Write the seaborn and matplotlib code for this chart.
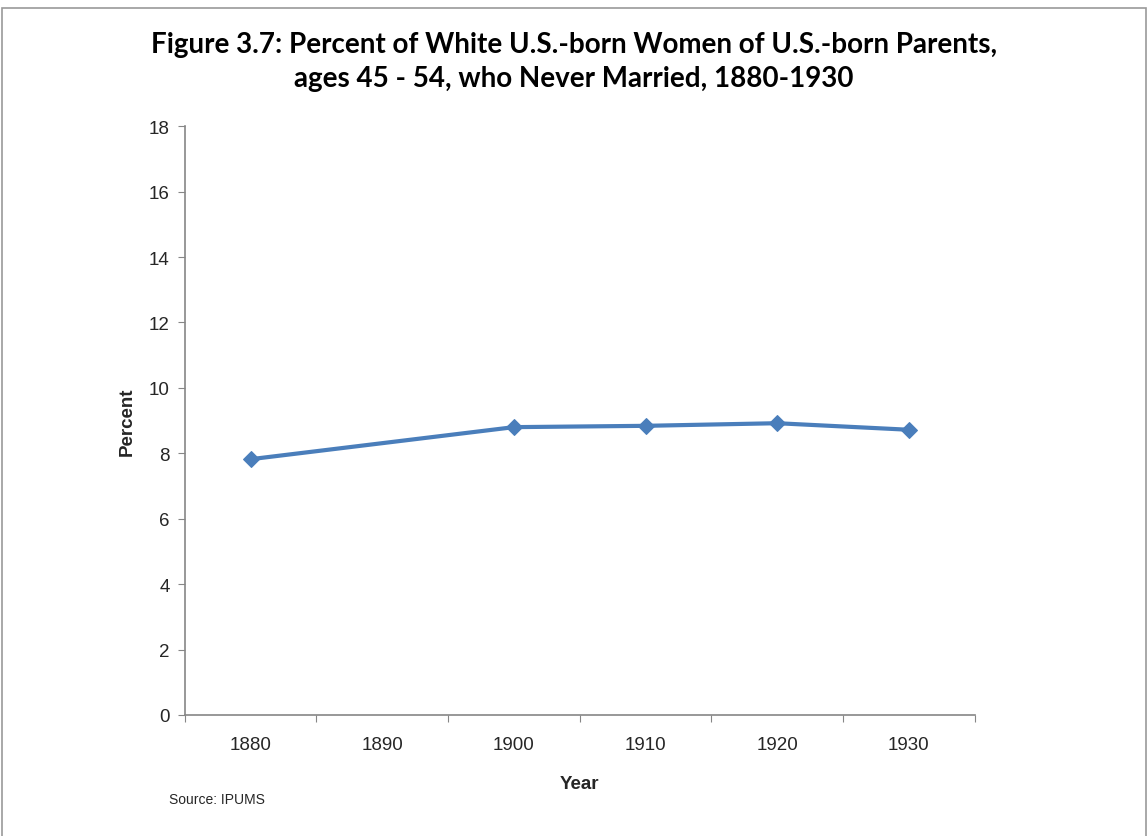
import matplotlib
matplotlib.use("Agg")
import matplotlib.pyplot as plt
import seaborn as sns
import pandas as pd
import numpy as np
from matplotlib.patches import Rectangle
from matplotlib import font_manager

years = [1880, 1890, 1900, 1910, 1920, 1930]
percent = [7.82, np.nan, 8.80, 8.84, 8.92, 8.72]
y_ticks = [0, 2, 4, 6, 8, 10, 12, 14, 16, 18]

sns.set_style("white")
names = {f.name for f in font_manager.fontManager.ttflist}
title_font = "Liberation Sans Narrow" if "Liberation Sans Narrow" in names else "Lato"
plt.rcParams['font.family'] = ['Liberation Sans', 'DejaVu Sans']

df = pd.DataFrame({"Year": years, "Percent": percent})

fig = plt.figure(figsize=(11.48, 8.37), dpi=100)
ax = fig.add_axes([0.161, 0.1446, 0.688, 0.7034])

sns.lineplot(data=df.dropna(), x="Year", y="Percent", ax=ax, color="#4a7ebb",
             linewidth=3, marker="D", markersize=8, markeredgecolor="#4a7ebb")

ax.set_xlim(1875, 1935)
ax.set_ylim(0, 18)
ax.set_yticks(y_ticks)
ax.set_yticklabels([str(v) for v in y_ticks], fontsize=13.5)
ax.set_xticks(np.arange(1875, 1936, 10))
ax.set_xticklabels([])
ax.set_xticks(years, minor=True)
ax.set_xticklabels([str(y) for y in years], minor=True, fontsize=13.5)
ax.tick_params(axis='x', which='minor', length=0, pad=15)
ax.tick_params(axis='x', which='major', length=5, direction='out', color='#868686', bottom=True)
ax.tick_params(axis='y', length=5, direction='out', color='#868686', left=True, pad=6)

for s in ['top', 'right']:
    ax.spines[s].set_visible(False)
for s in ['left', 'bottom']:
    ax.spines[s].set_color('#868686')
    ax.spines[s].set_linewidth(1.2)

ax.set_xlabel("Year", fontsize=13.5, fontweight='bold', labelpad=16)
ax.set_ylabel("Percent", fontsize=13.5, fontweight='bold', labelpad=9)

fig.text(0.5, 0.962, "Figure 3.7: Percent of White U.S.-born Women of U.S.-born Parents,\nages 45 - 54, who Never Married, 1880-1930",
         ha='center', va='top', fontsize=20, fontweight='bold', family=title_font,
         linespacing=1.4, color='black')
fig.text(0.147, 0.044, "Source: IPUMS", fontsize=10, ha='left', va='center')

fig.patches.append(Rectangle((0.002, -0.01), 0.996, 0.999, transform=fig.transFigure,
                             fill=False, edgecolor='#9a9a9a', linewidth=1.2))

fig.savefig("out.png", dpi=100)
